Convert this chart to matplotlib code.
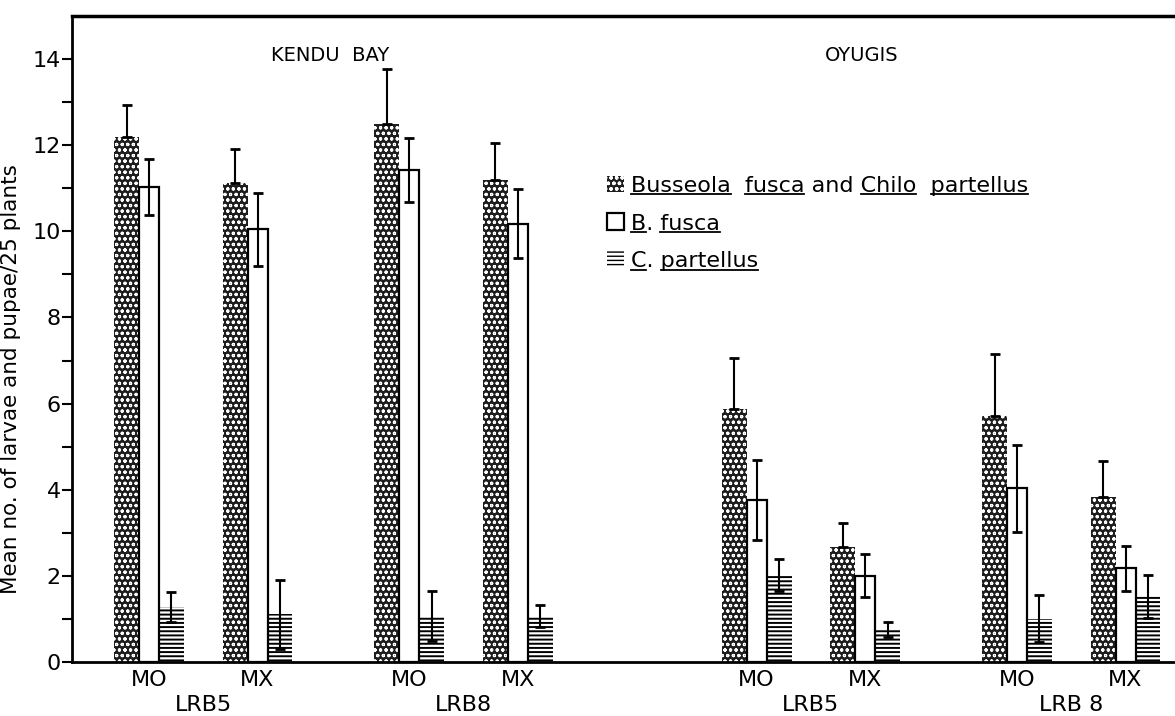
import numpy as np
import matplotlib
matplotlib.use('Agg')
import matplotlib.pyplot as plt
from matplotlib.lines import Line2D
from matplotlib.transforms import IdentityTransform

plt.rcParams['font.family'] = ['DejaVu Sans']

# group layout: Kendu Bay (LRB5 MO/MX, LRB8 MO/MX), Oyugis (same)
group_pos = [0, 1, 2.4, 3.4, 5.6, 6.6, 8.0, 9.0]
treat_labels = ['MO', 'MX', 'MO', 'MX', 'MO', 'MX', 'MO', 'MX']
variety_labels = ['LRB5', 'LRB8', 'LRB5', 'LRB 8']
site_labels = ['KENDU  BAY', 'OYUGIS']

# Busseola fusca and Chilo partellus
both_mean = [12.2, 11.12, 12.5, 11.2, 5.87, 2.66, 5.72, 3.82]
both_err = [0.73, 0.8, 1.26, 0.86, 1.18, 0.57, 1.43, 0.84]
# B. fusca
bfusca_mean = [11.02, 10.05, 11.42, 10.18, 3.77, 2.0, 4.03, 2.18]
bfusca_err = [0.65, 0.85, 0.75, 0.8, 0.93, 0.5, 1.0, 0.52]
# C. partellus
cpart_mean = [1.27, 1.11, 1.07, 1.07, 2.02, 0.76, 1.01, 1.53]
cpart_err = [0.35, 0.8, 0.58, 0.25, 0.38, 0.17, 0.55, 0.5]

legend_labels = ['Busseola  fusca and Chilo  partellus', 'B. fusca', 'C. partellus']
underlined = [['Busseola', 'fusca', 'Chilo', 'partellus'], ['B', 'fusca'], ['C', 'partellus']]

W, H = 1175, 716
fig = plt.figure(figsize=(W / 100, H / 100), dpi=100)
ax = fig.add_axes([72 / W, 1 - 662 / H, 1 - 72 / W, (662 - 16) / H])

x = np.array(group_pos, dtype=float)
off = 0.207

with plt.rc_context({'hatch.linewidth': 0.8}):
    b1 = ax.bar(x - off, both_mean, width=0.23, color='#1e1e1e', edgecolor='white',
                linewidth=0, hatch='ooo', zorder=2)
with plt.rc_context({'hatch.linewidth': 1.4}):
    b3 = ax.bar(x + off, cpart_mean, width=0.23, color='white', edgecolor='black',
                linewidth=0, hatch='----', zorder=2)
b2 = ax.bar(x, bfusca_mean, width=0.184, color='white', edgecolor='black',
            linewidth=1.6, zorder=3)

eb = dict(fmt='none', ecolor='black', elinewidth=1.5, capsize=3.3, capthick=2, zorder=4)
ax.errorbar(x - off, both_mean, yerr=[np.zeros(len(x)), both_err], **eb)
ax.errorbar(x, bfusca_mean, yerr=bfusca_err, **eb)
ax.errorbar(x + off, cpart_mean, yerr=cpart_err, **eb)

ax.set_ylim(0, 15)
ax.set_xlim(-0.71, 9.456)
ax.set_yticks(range(0, 15, 2))
ax.set_yticks(range(1, 15, 2), minor=True)
ax.tick_params(axis='y', which='both', direction='out', length=7, width=1.5,
               labelsize=16, pad=1)
ax.set_xticks(x, treat_labels)
ax.tick_params(axis='x', length=0, labelsize=16, pad=6)
ax.spines['right'].set_visible(False)
ax.spines['left'].set_linewidth(2)
ax.spines['bottom'].set_linewidth(2)
ax.spines['top'].set_linewidth(2.5)

ax.set_ylabel('Mean no. of larvae and pupae/25 plants', fontsize=15.5)
ax.yaxis.set_label_coords(-0.046, 0.438)

var_pos = x.reshape(-1, 2).mean(axis=1)
for vp, vl in zip(var_pos, variety_labels):
    ax.annotate(vl, xy=(vp, 0), xycoords=('data', 'axes fraction'), xytext=(0, -24),
                textcoords='offset points', ha='center', va='top', fontsize=16)

ax.text(1.67, 14.08, site_labels[0], ha='center', va='center', fontsize=14)
ax.text(6.57, 14.08, site_labels[1], ha='center', va='center', fontsize=14)

leg = ax.legend([b1, b2, b3], legend_labels, loc='upper left', bbox_to_anchor=(0.485, 0.753),
                frameon=False, fontsize=16, handlelength=0.78, handleheight=0.78,
                handletextpad=0.3, labelspacing=0.8, borderpad=0, borderaxespad=0)

# underline the species names in the legend
fig.canvas.draw()
r = fig.canvas.get_renderer()
for txt, words in zip(leg.get_texts(), underlined):
    prop = txt.get_fontproperties()
    s = txt.get_text()
    bb = txt.get_window_extent(r)
    lp_d = r.get_text_width_height_descent('lp', prop, ismath=False)[2]
    y = bb.y0 + lp_d * 0.45
    start = 0
    for w in words:
        i = s.find(w, start)
        start = i + len(w)
        x1 = bb.x0 + r.get_text_width_height_descent(s[:start], prop, ismath=False)[0]
        x0 = x1 - r.get_text_width_height_descent(w, prop, ismath=False)[0]
        fig.add_artist(Line2D([x0, x1], [y, y], transform=IdentityTransform(),
                              color='black', linewidth=1.3))

fig.savefig('out.png', dpi=100)
